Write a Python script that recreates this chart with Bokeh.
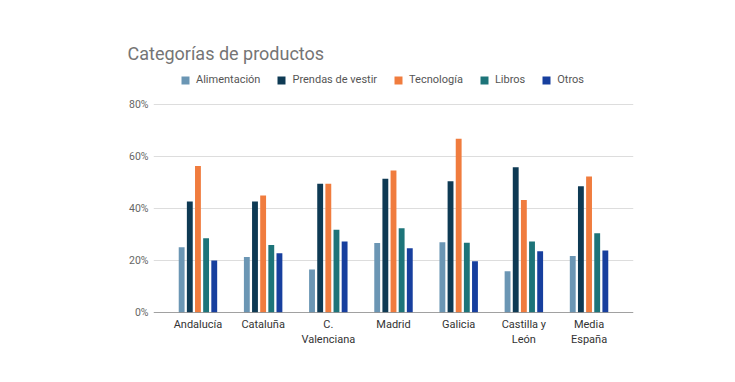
from bokeh.plotting import figure
from bokeh.models import (ColumnDataSource, FactorRange, Range1d, FixedTicker, PrintfTickFormatter,
                          Legend, LegendItem, Span)
from bokeh.transform import dodge
from bokeh.embed import file_html
from bokeh.resources import INLINE

regions = ["Andalucía", "Cataluña", "C.\nValenciana", "Madrid", "Galicia", "Castilla y\nLeón", "Media\nEspaña"]
series = ["Alimentación", "Prendas de vestir", "Tecnología", "Libros", "Otros"]
alimentacion = [25.1, 21.3, 16.5, 26.7, 27.0, 15.9, 21.7]
prendas = [42.7, 42.7, 49.5, 51.4, 50.5, 55.9, 48.6]
tecnologia = [56.3, 45.0, 49.5, 54.6, 66.8, 43.3, 52.3]
libros = [28.6, 26.0, 31.8, 32.4, 26.8, 27.3, 30.5]
otros = [20.0, 22.8, 27.3, 24.7, 19.7, 23.6, 23.8]
y_ticks = [0, 20, 40, 60, 80]
colors = ["#6b96b4", "#0e3a54", "#f07c3e", "#1d7479", "#173f9e"]

FONT = "Roboto"
src = ColumnDataSource(dict(region=regions, a=alimentacion, p=prendas, t=tecnologia, l=libros, o=otros))

# frame spans page y 68..312; 80% gridline lands at y=104
Y_END = 80 * (312 - 68) / (312 - 104)

p = figure(width=719, height=366, output_backend="svg", toolbar_location=None,
           x_range=FactorRange(factors=regions, range_padding=0.052),
           y_range=Range1d(0, Y_END),
           min_border_left=153, min_border_right=86, min_border_top=68, min_border_bottom=54,
           title="Categorías de productos")
p.outline_line_color = None
p.background_fill_color = "white"

p.title.text_font = FONT
p.title.text_font_size = "18px"
p.title.text_color = "#757575"
p.title.text_font_style = "normal"
p.title.align = "left"
p.title.offset = -26
p.title.standoff = 9

cols = ["a", "p", "t", "l", "o"]
offsets = [-0.25, -0.125, 0.0, 0.125, 0.25]
items = []
for c, off, col, name in zip(cols, offsets, colors, series):
    r = p.vbar(x=dodge("region", off, range=p.x_range), top=c, width=0.09, source=src,
               fill_color=col, line_color=None)
    items.append(LegendItem(label=name, renderers=[r]))

leg = Legend(items=items, orientation="horizontal", location=(27, 226),
             padding=0, margin=0, border_line_color=None, background_fill_alpha=0,
             glyph_width=10, glyph_height=10, label_standoff=6, spacing=16,
             label_text_font=FONT, label_text_font_size="11px", label_text_color="#555555",
             label_height=12)
p.add_layout(leg, "center")

p.yaxis.ticker = FixedTicker(ticks=y_ticks)
p.yaxis.formatter = PrintfTickFormatter(format="%d%%")
p.yaxis.axis_line_color = None
p.yaxis.major_tick_line_color = None
p.yaxis.minor_tick_line_color = None
p.yaxis.major_tick_out = 0
p.yaxis.major_label_text_font = FONT
p.yaxis.major_label_text_font_size = "10.5px"
p.yaxis.major_label_text_color = "#666666"
p.yaxis.major_label_standoff = 5

p.xaxis.axis_line_color = None
p.xaxis.major_tick_line_color = None
p.xaxis.minor_tick_line_color = None
p.xaxis.major_tick_out = 0
p.xaxis.major_label_text_font = FONT
p.xaxis.major_label_text_font_size = "11px"
p.xaxis.major_label_text_color = "#333333"
p.xaxis.major_label_standoff = 5
p.xaxis.major_label_orientation = "horizontal"

p.xgrid.grid_line_color = None
p.ygrid.grid_line_color = "#dddddd"
p.ygrid.grid_line_width = 1

p.add_layout(Span(location=0, dimension="width", line_color="#444444", line_width=1))

open("out.html", "w").write(file_html(p, INLINE))
